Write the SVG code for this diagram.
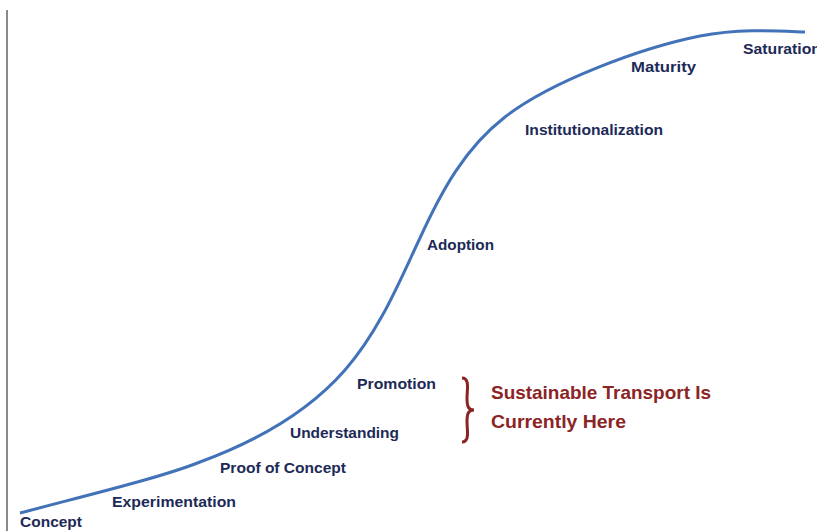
<svg xmlns="http://www.w3.org/2000/svg" width="817" height="531" viewBox="0 0 817 531">
<style>
.lbl{font-family:"Liberation Sans",Arial,sans-serif;font-weight:bold;font-size:15px;fill:#1d2a57}
.red{font-family:"Liberation Sans",Arial,sans-serif;font-weight:bold;font-size:19px;fill:#8b2525}
</style>
<rect width="817" height="531" fill="#ffffff"/>
<line x1="7" y1="10" x2="7" y2="531" stroke="#8a8a8a" stroke-width="2"/>
<g id="connectors">
<path d="M20,513 C80,497 160,478 200,462 C260,440 310,410 345,370 C380,330 400,280 420,238 C442,190 465,148 505,117 C550,82 640,48 700,36 C740,28 780,31 805,32" fill="none" stroke="#4272b8" stroke-width="3"/>
</g>
<g id="concept"><text class="lbl" x="20" y="527" textLength="62" lengthAdjust="spacingAndGlyphs">Concept</text></g>
<g id="experimentation"><text class="lbl" x="112" y="507" textLength="124" lengthAdjust="spacingAndGlyphs">Experimentation</text></g>
<g id="proof"><text class="lbl" x="220" y="473" textLength="126" lengthAdjust="spacingAndGlyphs">Proof of Concept</text></g>
<g id="understanding"><text class="lbl" x="290" y="438" textLength="109" lengthAdjust="spacingAndGlyphs">Understanding</text></g>
<g id="promotion"><text class="lbl" x="357" y="389" textLength="79" lengthAdjust="spacingAndGlyphs">Promotion</text></g>
<g id="adoption"><text class="lbl" x="427" y="250" textLength="67" lengthAdjust="spacingAndGlyphs">Adoption</text></g>
<g id="institutionalization"><text class="lbl" x="525" y="135" textLength="138" lengthAdjust="spacingAndGlyphs">Institutionalization</text></g>
<g id="maturity"><text class="lbl" x="631" y="72" textLength="65" lengthAdjust="spacingAndGlyphs">Maturity</text></g>
<g id="saturation"><text class="lbl" x="743" y="54" textLength="78" lengthAdjust="spacingAndGlyphs">Saturation</text></g>
<g id="here">
<path d="M462,378 C470,378 467,390 467,398 C467,406 468,410 474,410 C468,410 467,414 467,422 C467,430 470,442 462,442" fill="none" stroke="#8b2525" stroke-width="3"/>
<text class="red" x="491" y="399" textLength="220" lengthAdjust="spacingAndGlyphs">Sustainable Transport Is</text>
<text class="red" x="491" y="428" textLength="135" lengthAdjust="spacingAndGlyphs">Currently Here</text>
</g>
</svg>
